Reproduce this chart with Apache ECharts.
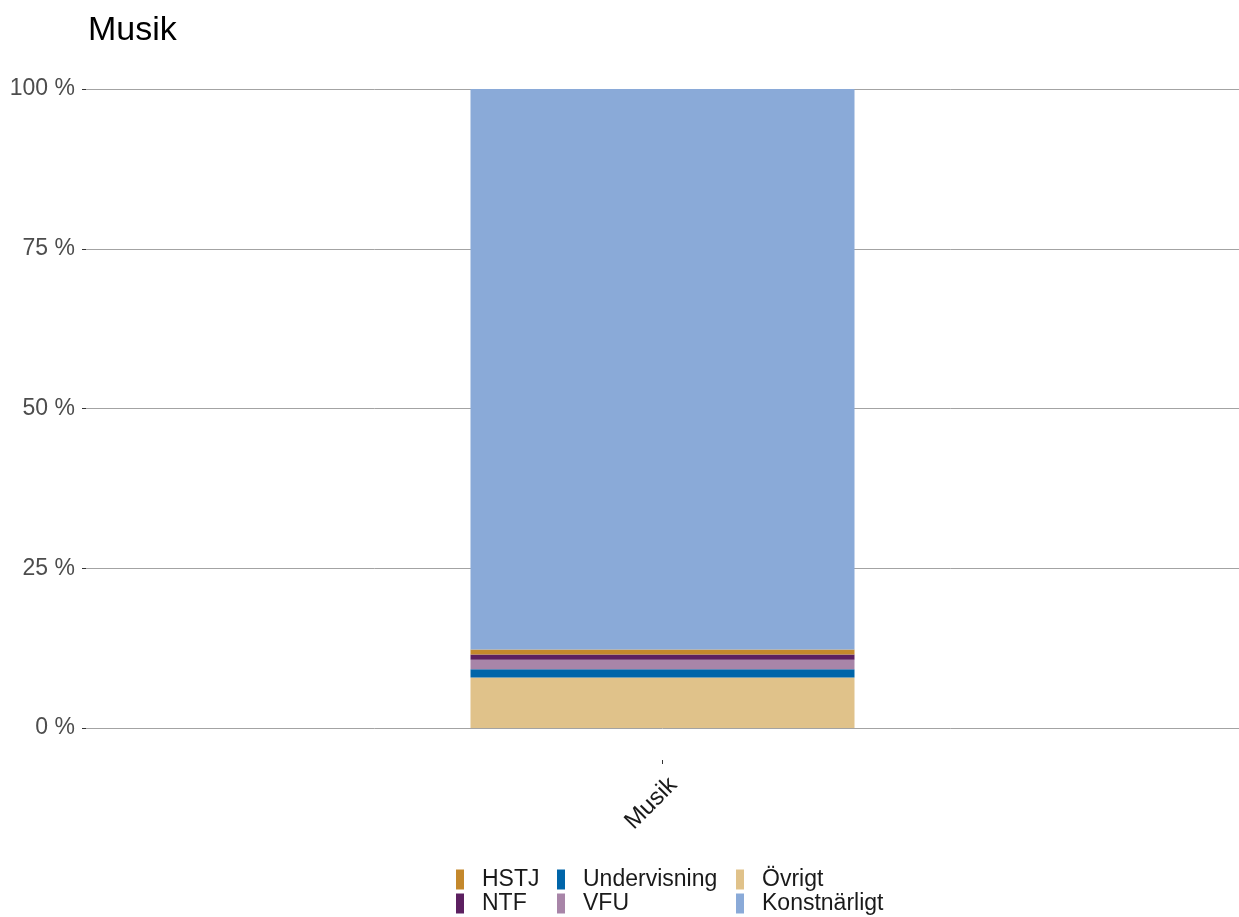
<!DOCTYPE html>
<html>
<head>
<meta charset="utf-8">
<script src="https://cdn.jsdelivr.net/npm/echarts@6/dist/echarts.min.js"></script>
<style>html,body{margin:0;padding:0;background:#fff}#c{width:1239px;height:917px}</style>
</head>
<body>
<div id="c"></div>
<script>
const categories = ['Musik'];
const seriesNames = ['Övrigt', 'Undervisning', 'VFU', 'NTF', 'HSTJ', 'Konstnärligt'];
const ovrigt = [7.9];
const undervisning = [1.3];
const vfu = [1.5];
const ntf = [0.8];
const hstj = [0.8];
const konstnarligt = [87.7];
const yTicks = [0, 25, 50, 75, 100];

const colors = {
  'Övrigt': '#e0c28a',
  'Undervisning': '#0065a9',
  'VFU': '#a885a8',
  'NTF': '#5c2060',
  'HSTJ': '#c4882c',
  'Konstnärligt': '#8aaad8'
};
const values = [ovrigt, undervisning, vfu, ntf, hstj, konstnarligt];
const font = 'Liberation Sans, Arial, sans-serif';

// legend layout: name -> [left, top]
const legendPos = {
  'HSTJ': [456, 868], 'NTF': [456, 892],
  'Undervisning': [557, 868], 'VFU': [557, 892],
  'Övrigt': [736, 868], 'Konstnärligt': [736, 892]
};
const legends = Object.keys(legendPos).map(n => ({
  show: true, orient: 'horizontal', left: legendPos[n][0], top: legendPos[n][1],
  padding: 0, itemWidth: 8, itemHeight: 20, itemGap: 0,
  icon: 'rect', selectedMode: false, data: [n],
  textStyle: {fontFamily: font, fontSize: 23, color: '#1a1a1a', lineHeight: 23, padding: [0, 0, 0, 13]}
}));

const chart = echarts.init(document.getElementById('c'), null, {renderer: 'canvas'});
chart.setOption({
  animation: false,
  title: {text: 'Musik', left: 83, top: 9, textStyle: {fontFamily: font, fontSize: 34, fontWeight: 'normal', color: '#000'}},
  grid: [
    {left: 86, right: 0, top: 89, bottom: 189, containLabel: false},
    {left: 86, right: 0, top: 57, bottom: 157, containLabel: false}
  ],
  legend: legends,
  xAxis: [{
    type: 'category', data: categories, gridIndex: 0,
    axisLine: {show: false}, axisTick: {show: false}, axisLabel: {show: false}
  }, {
    type: 'category', data: categories, gridIndex: 1,
    axisLine: {show: false},
    axisTick: {show: true, length: 4, alignWithLabel: true, lineStyle: {color: '#333'}},
    axisLabel: {rotate: 45, margin: 1, lineHeight: 22, formatter: v => '\n\n' + v + ' ',
      fontFamily: font, fontSize: 24, color: '#1a1a1a'}
  }],
  yAxis: [{
    type: 'value', gridIndex: 0, min: yTicks[0], max: yTicks[yTicks.length - 1], interval: 25,
    axisLine: {show: false},
    axisTick: {show: true, length: 4, lineStyle: {color: '#333'}},
    axisLabel: {formatter: '{value} %', margin: 11, padding: [3, 0, 0, 0], fontFamily: font, fontSize: 23, color: '#4d4d4d'},
    splitLine: {lineStyle: {color: '#a3a3a3', width: 1}}
  }, {
    type: 'value', gridIndex: 1, show: false, min: 0, max: 1
  }],
  series: seriesNames.map((n, i) => ({
    name: n, type: 'bar', stack: 'total', data: values[i], barWidth: 384,
    xAxisIndex: 0, yAxisIndex: 0,
    itemStyle: {color: colors[n]}
  }))
});
</script>
</body>
</html>
